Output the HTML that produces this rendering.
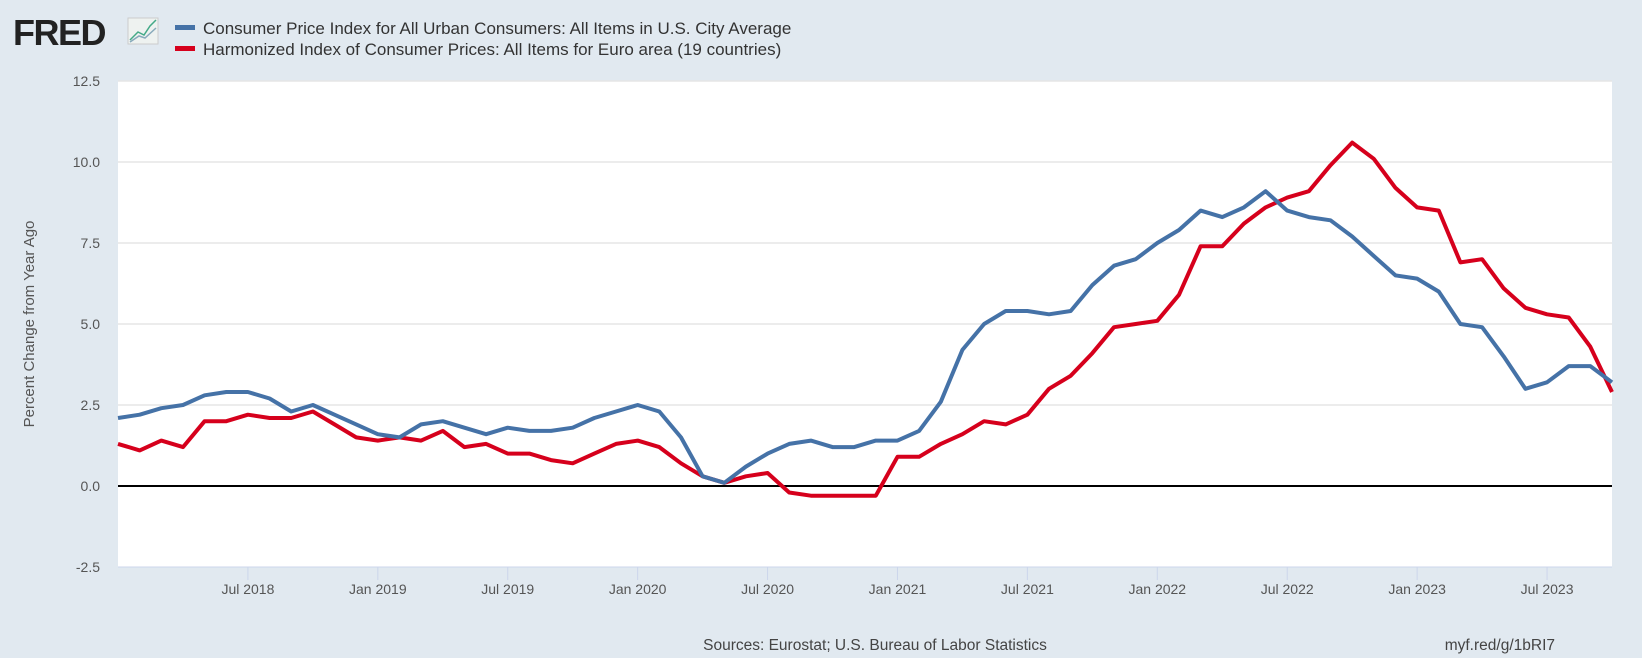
<!DOCTYPE html>
<html><head><meta charset="utf-8"><style>
body{margin:0;width:1642px;height:658px;background:#e1e9f0;font-family:"Liberation Sans",sans-serif;overflow:hidden}
svg{display:block}
text{font-family:"Liberation Sans",sans-serif}
</style></head><body>
<svg id="chart" width="1642" height="658">
<rect width="1642" height="658" fill="#e1e9f0"/>
<g>
<text x="13" y="45" font-size="36" font-weight="bold" fill="#222" letter-spacing="-1.5">FRED</text>
<rect x="128" y="18" width="30" height="26" fill="#eef2f0" stroke="#ccc"/>
<polyline points="130,40 138,32 144,35 150,26 156,20" fill="none" stroke="#4a8" stroke-width="1.5"/>
<polyline points="130,42 139,36 145,38 156,28" fill="none" stroke="#8ab" stroke-width="1.5"/>
</g>
<g>
<rect x="175" y="25" width="20" height="5" fill="#4572a7"/>
<text x="203" y="34" font-size="17" fill="#333">Consumer Price Index for All Urban Consumers: All Items in U.S. City Average</text>
<rect x="175" y="46" width="20" height="5" fill="#d6001c"/>
<text x="203" y="55" font-size="17" fill="#333">Harmonized Index of Consumer Prices: All Items for Euro area (19 countries)</text>
</g>
<rect x="118" y="81" width="1494" height="486" fill="#fff"/>
<g id="grid"></g>
<g id="xaxis"></g>
<g id="series"></g>
<text transform="translate(34,324) rotate(-90)" text-anchor="middle" font-size="15" fill="#555">Percent Change from Year Ago</text>
<text x="875" y="650" text-anchor="middle" font-size="15.5" fill="#444">Sources: Eurostat; U.S. Bureau of Labor Statistics</text>
<text x="1555" y="650" text-anchor="end" font-size="15.5" fill="#444">myf.red/g/1bRI7</text>
</svg>
<script>
const yTicks=[-2.5,0,2.5,5,7.5,10,12.5];
const yTickLabels=["-2.5","0.0","2.5","5.0","7.5","10.0","12.5"];
const xTickIndex=[6,12,18,24,30,36,42,48,54,60,66];
const xTickLabels=["Jul 2018","Jan 2019","Jul 2019","Jan 2020","Jul 2020","Jan 2021","Jul 2021","Jan 2022","Jul 2022","Jan 2023","Jul 2023"];
const cpiValues=[2.1,2.2,2.4,2.5,2.8,2.9,2.9,2.7,2.3,2.5,2.2,1.9,
1.6,1.5,1.9,2.0,1.8,1.6,1.8,1.7,1.7,1.8,2.1,2.3,
2.5,2.3,1.5,0.3,0.1,0.6,1.0,1.3,1.4,1.2,1.2,1.4,
1.4,1.7,2.6,4.2,5.0,5.4,5.4,5.3,5.4,6.2,6.8,7.0,
7.5,7.9,8.5,8.3,8.6,9.1,8.5,8.3,8.2,7.7,7.1,6.5,
6.4,6.0,5.0,4.9,4.0,3.0,3.2,3.7,3.7,3.2];
const hicpValues=[1.3,1.1,1.4,1.2,2.0,2.0,2.2,2.1,2.1,2.3,1.9,1.5,
1.4,1.5,1.4,1.7,1.2,1.3,1.0,1.0,0.8,0.7,1.0,1.3,
1.4,1.2,0.7,0.3,0.1,0.3,0.4,-0.2,-0.3,-0.3,-0.3,-0.3,
0.9,0.9,1.3,1.6,2.0,1.9,2.2,3.0,3.4,4.1,4.9,5.0,
5.1,5.9,7.4,7.4,8.1,8.6,8.9,9.1,9.9,10.6,10.1,9.2,
8.6,8.5,6.9,7.0,6.1,5.5,5.3,5.2,4.3,2.9];
const NS="http://www.w3.org/2000/svg";
const X0=118,X1=1612,Y0=567,Y1=81;
const nPts=cpiValues.length;
function xs(i){return X0+(X1-X0)*i/(nPts-1);}
function ys(v){return Y0-(v-(-2.5))/(15)*(Y0-Y1);}
function mk(tag,attrs,parent){const e=document.createElementNS(NS,tag);for(const k in attrs)e.setAttribute(k,attrs[k]);parent.appendChild(e);return e;}
const grid=document.getElementById('grid');
yTicks.forEach((v,i)=>{
  if(v!==0&&v!==-2.5){const l=mk('line',{x1:X0,x2:X1,y1:ys(v),y2:ys(v),stroke:'#e6e6e6','stroke-width':1.5},grid);
  
  }
  const t=mk('text',{x:100,y:ys(v)+5,'text-anchor':'end','font-size':14,fill:'#555'},grid);
  t.textContent=yTickLabels[i];
  
  
});
const xa=document.getElementById('xaxis');
const base=mk('line',{x1:X0,x2:X1,y1:Y0,y2:Y0,stroke:'#ccd6eb','stroke-width':1},xa);


xTickIndex.forEach((idx,i)=>{
  const x=xs(idx);
  const tk=mk('line',{x1:x,x2:x,y1:Y0,y2:Y0+13,stroke:'#ccd6eb'},xa);
  
  
  const t=mk('text',{x:x,y:594,'text-anchor':'middle','font-size':14,fill:'#555'},xa);
  t.textContent=xTickLabels[i];
  
  
});
const sg=document.getElementById('series');
const zero=mk('line',{x1:X0,x2:X1,y1:ys(0),y2:ys(0),stroke:'#000','stroke-width':2},sg);


function pts(a){return a.map((v,i)=>xs(i).toFixed(1)+','+ys(v).toFixed(1)).join(' ');}
const l1=mk('polyline',{points:pts(hicpValues),fill:'none',stroke:'#d6001c','stroke-width':4,'stroke-linejoin':'round'},sg);


const l2=mk('polyline',{points:pts(cpiValues),fill:'none',stroke:'#4572a7','stroke-width':4,'stroke-linejoin':'round'},sg);


</script>
</body></html>
